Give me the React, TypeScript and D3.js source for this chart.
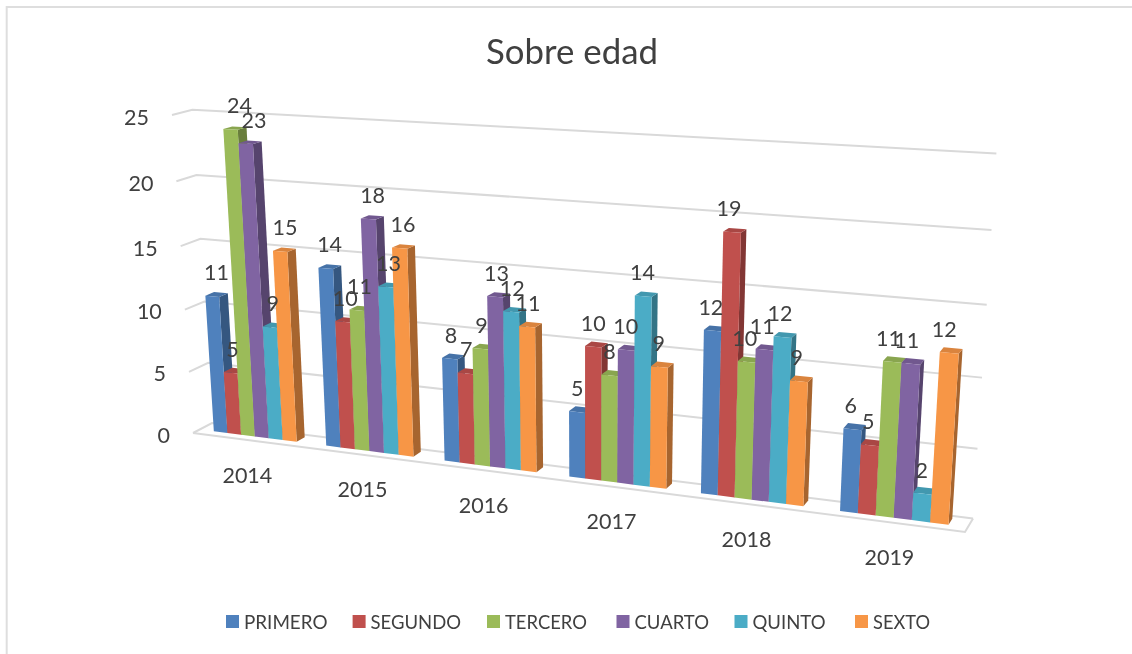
import React from "react";
import * as d3 from "d3";

const title = "Sobre edad";
const years = ["2014", "2015", "2016", "2017", "2018", "2019"];
const seriesNames = ["PRIMERO", "SEGUNDO", "TERCERO", "CUARTO", "QUINTO", "SEXTO"];
const primero = [11, 14, 8, 5, 12, 6];
const segundo = [5, 10, 7, 10, 19, 5];
const tercero = [24, 11, 9, 8, 10, 11];
const cuarto = [23, 18, 13, 10, 11, 11];
const quinto = [9, 13, 12, 14, 12, 2];
const sexto = [15, 16, 11, 9, 9, 12];
const seriesValues = [primero, segundo, tercero, cuarto, quinto, sexto];
const colors = ["#4F81BD", "#C0504D", "#9BBB59", "#8064A2", "#4BACC6", "#F79646"];
const yTicks = [0, 5, 10, 15, 20, 25];

const FONT = "Lato, 'Open Sans', sans-serif";
const TEXT = "#404040";
const GRID = "#D9D9D9";

// Perspective camera: screen = (O + X*Ex + Y*Ey + Z*Ez) / (1 + a*X + b*Y + c*Z)
const a = -0.15, b = -0.05, c = 0.016;
const O: [number, number] = [193, 433];
const FR: [number, number] = [965, 532];
const FT: [number, number] = [172, 115];
const BL: [number, number] = [212, 423];
const vec = (p: [number, number], k: number) => [p[0] * (1 + k) - O[0], p[1] * (1 + k) - O[1]];
const Ex = vec(FR, a), Ey = vec(FT, b), Ez = vec(BL, c);
function project(X: number, Y: number, Z: number): [number, number] {
  const w = 1 + a * X + b * Y + c * Z;
  return [
    (O[0] + X * Ex[0] + Y * Ey[0] + Z * Ez[0]) / w,
    (O[1] + X * Ex[1] + Y * Ey[1] + Z * Ez[1]) / w,
  ];
}

const xBand = d3.scaleBand<string>().domain(years).range([0, 1]).paddingInner(0.258).paddingOuter(0.129);
const xSeries = d3.scaleBand<string>().domain(seriesNames).range([0, xBand.bandwidth()]);
const yScale = d3.scaleLinear().domain([0, 25]).range([0, 1]);
const Z0 = 0.35, Z1 = 0.8;

const path = (pts: [number, number][]) => d3.line()(pts)! + "Z";

const legendTextW = [83.5, 90.5, 82, 74.5, 73, 57];
const legendStep = [126.6, 134.4, 129.5, 118, 120.5, 0];

export default function App() {
  const bars: React.ReactNode[] = [];
  const labels: React.ReactNode[] = [];
  years.forEach((yr, g) => {
    seriesNames.forEach((s, i) => {
      const v = seriesValues[i][g];
      const x0 = xBand(yr)! + xSeries(s)!;
      const x1 = x0 + xSeries.bandwidth();
      const y = yScale(v);
      const col = colors[i];
      bars.push(
        <g key={yr + s}>
          <path d={path([project(x1, 0, Z0), project(x1, 0, Z1), project(x1, y, Z1), project(x1, y, Z0)])} fill={d3.color(col)!.darker(1.1).formatHex()} />
          <path d={path([project(x0, y, Z0), project(x1, y, Z0), project(x1, y, Z1), project(x0, y, Z1)])} fill={d3.color(col)!.darker(0.35).formatHex()} />
          <path d={path([project(x0, 0, Z0), project(x1, 0, Z0), project(x1, y, Z0), project(x0, y, Z0)])} fill={col} />
        </g>
      );
      const mid = project((x0 + x1) / 2, y / 2, Z0);
      const top = project((x0 + x1) / 2, y, Z0);
      labels.push(
        <text key={yr + s} x={mid[0]} y={top[1] - 24} textAnchor="middle" dominantBaseline="central" fontSize={21.5} fill={TEXT} fontFamily={FONT}>{v}</text>
      );
    });
  });

  let lx = 226;
  const legend = seriesNames.map((s, i) => {
    const x = lx;
    lx += legendStep[i];
    return (
      <g key={s}>
        <rect x={x} y={615} width={13} height={13} fill={colors[i]} />
        <text x={x + 18} y={621} dominantBaseline="central" fontSize={19} fill={TEXT} fontFamily={FONT} textLength={legendTextW[i]} lengthAdjust="spacingAndGlyphs">{s}</text>
      </g>
    );
  });

  return (
    <svg width={1132} height={654} style={{ position: "absolute", left: 0, top: 0, background: "#fff" }}>
      <path d="M6.7 654V7H1132" fill="none" stroke="#DEDEDE" strokeWidth={2} />
      <g style={{ filter: "blur(0.7px)" }}>
        <text x={572} y={50} textAnchor="middle" dominantBaseline="central" fontSize={34.8} fill={TEXT} fontFamily={FONT}>{title}</text>
        {yTicks.map((t) => {
          const Y = yScale(t);
          const p0 = project(0, Y, 0), p1 = project(0, Y, 1), p2 = project(1, Y, 1);
          return (
            <g key={t}>
              <path d={d3.line()([p0, p1, p2])!} fill="none" stroke={GRID} strokeWidth={2} />
              <text x={p0[0] - 23} y={p0[1] + 1.5} textAnchor="end" dominantBaseline="central" fontSize={21.5} fill={TEXT} fontFamily={FONT}>{t}</text>
            </g>
          );
        })}
        <path d={d3.line()([project(0, 0, 0), project(1, 0, 0), project(1, 0, 1)])!} fill="none" stroke={GRID} strokeWidth={2} />
        {bars}
        {labels}
        {years.map((yr) => {
          const p = project(xBand(yr)! + xBand.bandwidth() / 2, 0, 0);
          return <text key={yr} x={p[0] - 1} y={p[1] + 34.5} textAnchor="middle" dominantBaseline="central" fontSize={21.5} fill={TEXT} fontFamily={FONT}>{yr}</text>;
        })}
        {legend}
      </g>
    </svg>
  );
}
